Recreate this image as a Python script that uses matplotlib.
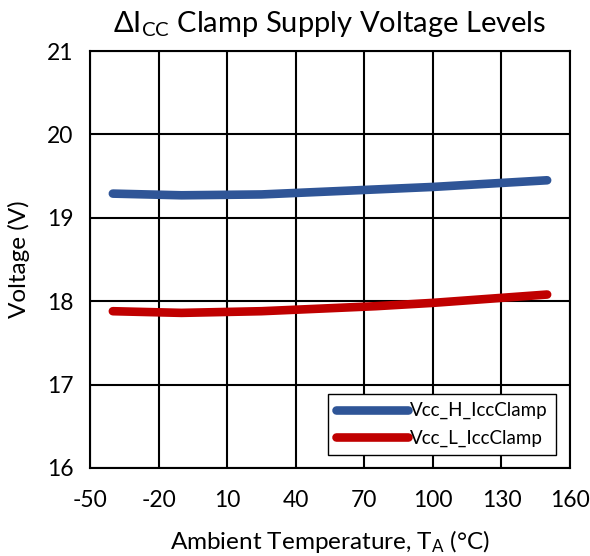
import matplotlib
matplotlib.use("Agg")
import matplotlib.pyplot as plt

plt.rcParams['font.family'] = ['Lato', 'DejaVu Sans']
plt.rcParams['mathtext.default'] = 'regular'
plt.rcParams['axes.unicode_minus'] = False

temps = [-40, -10, 25, 50, 75, 100, 125, 150]
vcc_h = [19.29, 19.27, 19.28, 19.31, 19.34, 19.37, 19.41, 19.45]
vcc_l = [17.88, 17.86, 17.88, 17.91, 17.94, 17.98, 18.03, 18.08]
series_names = ['Vcc_H_IccClamp', 'Vcc_L_IccClamp']
xticks = [-50, -20, 10, 40, 70, 100, 130, 160]
yticks = [16, 17, 18, 19, 20, 21]

fig = plt.figure(figsize=(5.9, 5.56), dpi=100)
ax = fig.add_axes([90/590, 88/556, 480/590, 417/556])

ax.plot(temps, vcc_h, color='#2F5597', lw=6.2, solid_capstyle='round', label=series_names[0], zorder=3)
ax.plot(temps, vcc_l, color='#C00000', lw=6.2, solid_capstyle='round', label=series_names[1], zorder=3)

ax.set_xlim(-50, 160)
ax.set_ylim(16, 21)
ax.set_xticks(xticks)
ax.set_yticks(yticks)
ax.grid(True, color='black', lw=1.5)
for s in ax.spines.values():
    s.set_linewidth(1.5)
ax.tick_params(axis='x', length=0, labelsize=16.5, pad=16)
ax.tick_params(axis='y', length=0, labelsize=16.5, pad=12)

ax.set_title('ΔI$_{CC}$ Clamp Supply Voltage Levels', fontsize=21, pad=14)
ax.set_xlabel('Ambient Temperature, T$_{A}$ (°C)', fontsize=17.5, labelpad=12)
ax.set_ylabel('Voltage (V)', fontsize=17.5, labelpad=12)

leg = ax.legend(loc='lower right', bbox_to_anchor=(0.97, 0.03), fontsize=13.5,
                frameon=True, fancybox=False, edgecolor='black', framealpha=1,
                handlelength=3.8, handletextpad=0.1, borderpad=0.45, labelspacing=0.55,
                borderaxespad=0)
leg.get_frame().set_linewidth(1.0)

fig.savefig('out.png', dpi=100)
